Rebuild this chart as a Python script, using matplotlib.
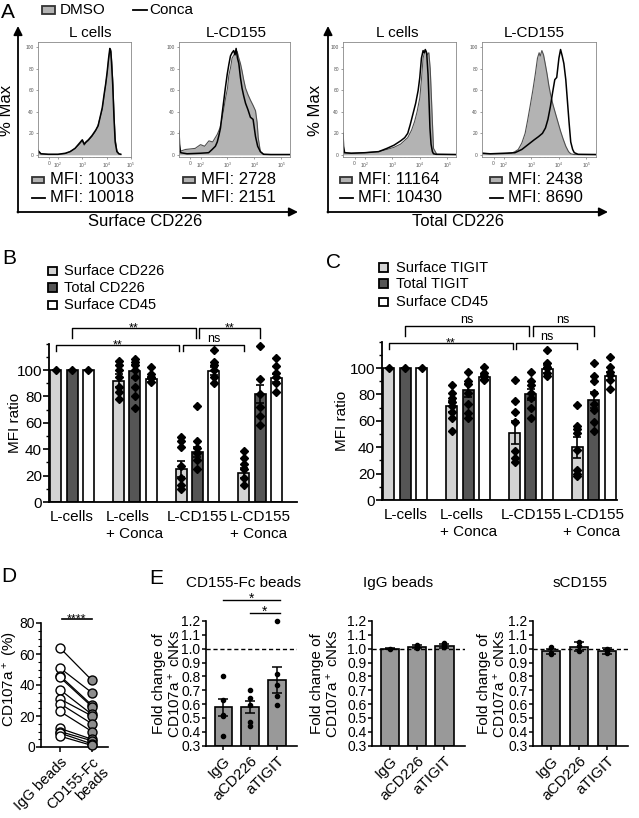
import numpy as np
import matplotlib
matplotlib.use("Agg")
import matplotlib.pyplot as plt
from matplotlib.patches import Rectangle
from matplotlib.ticker import MultipleLocator

plt.rcParams['font.family'] = ['Liberation Sans', 'DejaVu Sans']
plt.rcParams['mathtext.fontset'] = 'custom'
plt.rcParams['mathtext.rm'] = 'Liberation Sans'
plt.rcParams['mathtext.default'] = 'regular'

W, H = 639, 818

##data##
# panel A, x = log10 intensity, y = % max
h1_dmso_x = [1.18, 1.3, 1.6, 2.0, 2.3, 2.5, 2.7, 2.85, 3.0, 3.08, 3.15, 3.25, 3.4, 3.55, 3.65, 3.75, 3.82, 3.9, 3.96, 4.02, 4.08, 4.13, 4.17, 4.2, 4.25, 4.3, 4.35, 4.42, 4.5, 4.58]
h1_dmso_y = [3, 1, 0.5, 0.5, 1, 3, 6, 9, 13, 9, 11, 13, 17, 22, 28, 36, 42, 55, 65, 75, 88, 97, 98, 90, 70, 40, 15, 4, 1, 0.5]
h1_conca_x = [1.18, 1.3, 1.6, 2.0, 2.3, 2.5, 2.7, 2.85, 3.0, 3.08, 3.15, 3.25, 3.4, 3.55, 3.65, 3.75, 3.82, 3.9, 3.96, 4.02, 4.08, 4.13, 4.17, 4.2, 4.25, 4.3, 4.35, 4.42, 4.5, 4.58]
h1_conca_y = [4, 1, 0.5, 0.5, 1.5, 3, 6, 10, 14, 10, 12, 14, 18, 23, 27, 37, 44, 57, 66, 77, 90, 99, 96, 86, 65, 35, 12, 3, 1, 0.5]

h2_dmso_x = [1.2, 1.44, 1.8, 2.0, 2.15, 2.31, 2.45, 2.62, 2.72, 2.80, 2.87, 2.93, 3.0, 3.05, 3.12, 3.17, 3.24, 3.30, 3.36, 3.42, 3.48, 3.54, 3.6, 3.67, 3.76, 3.85, 3.95, 4.04, 4.1, 4.14, 4.22, 4.34, 4.6, 5.32]
h2_dmso_y = [3, 5, 6, 9.5, 8, 13, 12, 19, 25, 34, 44, 53, 62, 74, 82, 90, 93, 97, 96, 90, 85, 78, 70, 62, 56, 51, 46, 41, 30, 16, 3, 0.5, 0.3, 0.3]
h2_conca_x = [1.2, 1.22, 1.26, 1.5, 2.0, 2.3, 2.43, 2.55, 2.62, 2.68, 2.74, 2.8, 2.86, 2.92, 2.99, 3.05, 3.11, 3.17, 3.23, 3.28, 3.32, 3.37, 3.42, 3.48, 3.54, 3.6, 3.67, 3.76, 3.85, 3.95, 4.04, 4.12, 4.22, 4.34, 4.6, 5.32]
h2_conca_y = [22, 10, 2, 1, 1.5, 2, 5, 8, 12, 18, 25, 38, 50, 62, 75, 84, 92, 95, 97, 93, 99, 90, 85, 72, 62, 55, 48, 42, 35, 33, 17, 8, 3, 0.5, 0.3, 0.3]

h3_dmso_x = [1.2, 1.25, 1.5, 2.0, 2.5, 2.8, 3.06, 3.3, 3.56, 3.7, 3.81, 3.9, 4.0, 4.06, 4.12, 4.17, 4.21, 4.26, 4.33, 4.38, 4.41, 4.46, 4.5, 4.62, 5.32]
h3_dmso_y = [3, 2, 1.5, 2, 3, 5, 7, 10, 16, 23, 31, 40, 53, 70, 90, 95, 97, 93, 95, 80, 62, 30, 6, 0.5, 0.3]
h3_conca_x = [1.2, 1.22, 1.26, 1.5, 2.0, 2.5, 2.8, 3.06, 3.3, 3.45, 3.56, 3.65, 3.75, 3.85, 3.94, 4.0, 4.06, 4.12, 4.16, 4.2, 4.25, 4.3, 4.33, 4.37, 4.41, 4.46, 4.5, 4.6, 5.32]
h3_conca_y = [20, 8, 2, 1.5, 2, 3, 6, 9, 13, 16, 20, 28, 38, 48, 60, 72, 90, 97, 95, 98, 95, 75, 55, 25, 10, 3, 1, 0.5, 0.3]

h4_dmso_x = [1.2, 1.5, 2.0, 2.27, 2.4, 2.52, 2.65, 2.77, 2.86, 2.95, 3.05, 3.14, 3.22, 3.28, 3.32, 3.38, 3.44, 3.5, 3.57, 3.63, 3.69, 3.78, 3.88, 3.97, 4.06, 4.15, 4.25, 4.35, 4.43, 4.55, 5.35]
h4_dmso_y = [1.5, 1, 1, 1.5, 3, 5, 11, 20, 32, 45, 60, 75, 90, 95, 92, 97, 93, 85, 75, 65, 57, 47, 38, 30, 22, 15, 8, 3, 1, 0.3, 0.3]
h4_conca_x = [1.2, 1.5, 2.0, 2.4, 2.65, 2.8, 3.0, 3.1, 3.26, 3.4, 3.51, 3.6, 3.69, 3.77, 3.85, 3.92, 4.0, 4.06, 4.12, 4.18, 4.25, 4.31, 4.37, 4.43, 4.5, 4.56, 4.7, 5.35]
h4_conca_y = [1.5, 1, 1.5, 2, 5, 8, 12, 14, 17, 20, 25, 33, 45, 58, 70, 72, 90, 98, 92, 85, 70, 50, 30, 12, 5, 2, 0.5, 0.3]

hist_titles = ['L cells', 'L-CD155', 'L cells', 'L-CD155']
mfi_dmso = ['10033', '2728', '11164', '2438']
mfi_conca = ['10018', '2151', '10430', '8690']

# panel B / C
groups = ['L-cells', 'L-cells\n+ Conca', 'L-CD155', 'L-CD155\n+ Conca']
b_names = ['Surface CD226', 'Total CD226', 'Surface CD45']
b_mean = [[100, 92, 25, 22], [100, 99, 38, 82], [100, 93, 99, 94]]
b_err = [[0, 5, 6, 4], [0, 5, 4, 7], [0, 2, 3, 3]]
b_pts = [
    [[100], [107, 104, 100, 95, 87, 83, 78], [49, 46, 42, 27, 18, 13, 10], [39, 33, 29, 25, 18, 13]],
    [[100], [108, 106, 104, 100, 95, 87, 80, 71], [73, 46, 41, 37, 32, 25], [118, 93, 82, 72, 65, 58]],
    [[100], [102, 97, 95, 94, 91], [115, 106, 104, 100, 95, 90], [109, 103, 98, 95, 90, 83]],
]
b_upper = ['**', '**']
b_lower = ['**', 'ns']

c_names = ['Surface TIGIT', 'Total TIGIT', 'Surface CD45']
c_mean = [[100, 71, 51, 40], [100, 83, 80, 76], [100, 93, 99, 94]]
c_err = [[0, 4, 8.5, 8], [0, 5, 4, 6], [0, 2, 3, 3]]
c_pts = [
    [[100], [87, 81, 77, 74, 71, 67, 62, 52], [91, 75, 67, 59, 37, 32, 29], [72, 56, 54, 51, 38, 23, 20, 18]],
    [[100], [97, 90, 88, 81, 73, 66, 62], [97, 90, 87, 81, 77, 70, 62], [104, 94, 90, 81, 73, 68, 59, 52]],
    [[100], [101, 96, 94, 92, 91], [114, 104, 101, 100, 96, 94], [108, 101, 97, 95, 91, 84]],
]
c_upper = ['ns', 'ns']
c_lower = ['**', 'ns']

# panel D
d_labels = ['IgG beads', 'CD155-Fc\nbeads']
d_igg = [64, 51, 46, 45, 37, 31, 28, 23, 12, 10, 9, 7]
d_cd155 = [43, 35, 27, 26, 21, 20, 15, 10, 5, 4, 2, 1]

# panel E
e_labels = ['IgG', 'aCD226', 'aTIGIT']
e_titles = ['CD155-Fc beads', 'IgG beads', 'sCD155']
e_mean = [[0.575, 0.58, 0.775], [1.0, 1.015, 1.022], [0.98, 1.015, 0.985]]
e_err = [[0.06, 0.045, 0.095], [0.003, 0.012, 0.015], [0.02, 0.03, 0.02]]
e_pts = [
    [[0.80, 0.63, 0.52, 0.51, 0.37], [0.70, 0.64, 0.59, 0.47, 0.44], [1.2, 0.82, 0.74, 0.66, 0.59]],
    [[1.0], [1.03, 1.02, 1.005], [1.04, 1.03, 1.01]],
    [[1.01, 0.97, 0.96], [1.05, 1.02, 0.98], [1.0, 0.97, 0.98]],
]

fig = plt.figure(figsize=(W / 100, H / 100), dpi=100)


def px_axes(l, t, r, b):
    return fig.add_axes([l / W, 1 - b / H, (r - l) / W, (b - t) / H])


grey_fill = '#b3b3b3'

##Panel A##
hists = [(h1_dmso_x, h1_dmso_y, h1_conca_x, h1_conca_y),
         (h2_dmso_x, h2_dmso_y, h2_conca_x, h2_conca_y),
         (h3_dmso_x, h3_dmso_y, h3_conca_x, h3_conca_y),
         (h4_dmso_x, h4_dmso_y, h4_conca_x, h4_conca_y)]
hist_box = [(38, 42, 131, 157), (179, 42, 290, 157), (343, 42, 456, 157), (482, 42, 596, 157)]
hist_xlim = [(1.18, 4.58), (1.2, 5.32), (1.2, 5.32), (1.2, 5.35)]
minor = [np.log10(m * 10.0 ** k) for k in (2, 3, 4) for m in range(2, 10)]
for i in range(4):
    ax = px_axes(*hist_box[i])
    dx, dy, cx, cy = hists[i]
    ax.fill_between(dx, dy, 0, color=grey_fill, lw=0)
    ax.plot(dx, dy, color='#505050', lw=0.8)
    ax.plot(cx, cy, color='k', lw=1.1)
    ax.set_xlim(*hist_xlim[i])
    ax.set_ylim(-2, 105)
    ax.set_xticks([1.62, 2, 3, 4, 5])
    ax.set_xticklabels(['0', '10$^2$', '10$^3$', '10$^4$', '10$^5$'])
    ax.set_xticks(minor, minor=True)
    ax.set_yticks([0, 20, 40, 60, 80, 100])
    ax.tick_params(labelsize=3.5, length=1.5, width=0.4, pad=1.5, colors='#555555')
    ax.tick_params(which='minor', length=1, width=0.3, colors='#777777')
    for s in ax.spines.values():
        s.set_color('#888888')
        s.set_linewidth(0.6)

##Panel B and C##
bar_cols = ['#d3d3d3', '#555555', 'white']
off = 0.26
bw = 0.175


def bar_panel(ax, means, errs, pts, upper, lower, right, ylab_x):
    x = np.arange(len(groups))
    for j in range(3):
        xs = x + (j - 1) * off
        ax.bar(xs, means[j], bw, color=bar_cols[j], edgecolor='k', lw=1.2, zorder=2)
        ax.errorbar(xs, means[j], yerr=errs[j], fmt='none', ecolor='k', elinewidth=1.2, capsize=3, capthick=1.2, zorder=3)
        for g in range(len(groups)):
            p = pts[j][g]
            ax.plot([xs[g]] * len(p), p, 'D', color='k', ms=4.5, zorder=4, clip_on=False)
    ax.set_xlim(-0.37, right)
    ax.set_ylim(0, 120)
    ax.set_yticks([0, 20, 40, 60, 80, 100])
    ax.yaxis.set_minor_locator(MultipleLocator(10))
    ax.set_xticks(x)
    ax.set_xticklabels(groups, multialignment='left', fontsize=11)
    ax.tick_params(axis='x', length=0, pad=6)
    ax.tick_params(axis='y', labelsize=11, length=4, width=1.2, pad=1)
    ax.tick_params(axis='y', which='minor', length=2.5, width=1.0)
    ax.set_ylabel('MFI ratio', fontsize=11)
    ax.yaxis.set_label_coords(ylab_x, 0.5)
    for s in ['top', 'right']:
        ax.spines[s].set_visible(False)
    for s in ['left', 'bottom']:
        ax.spines[s].set_linewidth(1.3)
    # brackets
    g = 0.03
    for (a, b), lab in zip([(0, 2 - g), (2 + g, 3)], upper):
        ax.plot([a, a, b, b], [124.5, 132, 132, 124.5], color='k', lw=1, clip_on=False)
        if lab == 'ns':
            ax.text((a + b) / 2, 132, lab, ha='center', va='bottom', fontsize=9)
        else:
            ax.text((a + b) / 2, 129, lab, ha='center', va='baseline', fontsize=9)
    for (a, b), lab in zip([(-off, 2 - off - g), (2 - off + g, 3 - off)], lower):
        ax.plot([a, a, b, b], [114.5, 119, 119, 114.5], color='k', lw=1, clip_on=False)
        if lab == 'ns':
            ax.text((a + b) / 2, 119, lab, ha='center', va='bottom', fontsize=9)
        else:
            ax.text((a + b) / 2, 116, lab, ha='center', va='baseline', fontsize=9)


ax_b = px_axes(49, 343.6, 297, 502)
bar_panel(ax_b, b_mean, b_err, b_pts, b_upper, b_lower, 3.59, -0.109)
ax_c = px_axes(382, 341.6, 617, 500)
bar_panel(ax_c, c_mean, c_err, c_pts, c_upper, c_lower, 3.37, -0.14)

##Panel D##
ax_d = px_axes(41, 623, 108, 747)
for a, b in zip(d_igg, d_cd155):
    ax_d.plot([0, 1], [a, b], color='k', lw=0.9, zorder=2)
ax_d.scatter([0] * len(d_igg), d_igg, s=42, facecolor='white', edgecolor='k', lw=1.0, zorder=3, clip_on=False)
ax_d.scatter([1] * len(d_cd155), d_cd155, s=42, facecolor='#8c8c8c', edgecolor='k', lw=1.0, zorder=3, clip_on=False)
ax_d.set_xlim(-0.59, 1.5)
ax_d.set_ylim(0, 80)
ax_d.set_yticks([0, 20, 40, 60, 80])
ax_d.yaxis.set_minor_locator(MultipleLocator(5))
ax_d.set_xticks([0, 1])
ax_d.set_xticklabels(d_labels, rotation=45, ha='right', rotation_mode='anchor', multialignment='right', fontsize=10.5, linespacing=1.0)
ax_d.tick_params(axis='both', labelsize=10, length=3.5, width=1.1, pad=1)
ax_d.tick_params(axis='x', labelsize=10.5, pad=2)
ax_d.tick_params(axis='y', which='minor', length=2, width=0.8)
ax_d.set_ylabel('CD107a$^+$ (%)', fontsize=11)
ax_d.yaxis.set_label_coords(-0.31, 0.55)
for s in ['top', 'right']:
    ax_d.spines[s].set_visible(False)
for s in ['left', 'bottom']:
    ax_d.spines[s].set_linewidth(1.2)
ax_d.plot([0.05, 1.0], [82.6, 82.6], color='k', lw=1.2, clip_on=False)
ax_d.text(0.52, 80.6, '****', ha='center', va='baseline', fontsize=9)

##Panel E##
e_box = [(206, 621, 297, 745.5), (372, 621, 465, 745.5), (533, 621, 628, 745.5)]
e_ylab_x = [-0.26, -0.34, -0.27]
for i in range(3):
    ax = px_axes(*e_box[i])
    x = np.arange(3)
    ax.bar(x, np.array(e_mean[i]) - 0.3, 0.66, bottom=0.3, color='#999999', edgecolor='k', lw=1.2, zorder=2)
    ax.errorbar(x, e_mean[i], yerr=e_err[i], fmt='none', ecolor='k', elinewidth=1.1, capsize=3.5, capthick=1.1, zorder=3)
    for g in range(3):
        p = e_pts[i][g]
        ax.plot([x[g]] * len(p), p, 'o', color='k', ms=3, zorder=4, clip_on=False)
    ax.axhline(1.0, color='k', lw=1.0, ls=(0, (3, 2)), zorder=5)
    ax.set_xlim(-0.65, 2.75)
    ax.set_ylim(0.3, 1.2)
    ax.set_yticks(np.round(np.arange(0.3, 1.21, 0.1), 1))
    ax.set_xticks(x)
    ax.set_xticklabels(e_labels, rotation=45, ha='right', rotation_mode='anchor', fontsize=11)
    ax.tick_params(axis='y', labelsize=10, length=3, width=1.1, pad=1)
    ax.tick_params(axis='x', length=3, width=1.1, pad=3)
    ax.set_ylabel('Fold change of\nCD107a$^+$ cNKs', fontsize=11, linespacing=1.0)
    ax.yaxis.set_label_coords(e_ylab_x[i], 0.5)
    for s in ['top', 'right']:
        ax.spines[s].set_visible(False)
    for s in ['left', 'bottom']:
        ax.spines[s].set_linewidth(1.2)
    if i == 0:
        ax.plot([0, 2.1], [1.352, 1.352], color='k', lw=1.0, clip_on=False)
        ax.text(1.05, 1.33, '*', ha='center', va='baseline', fontsize=10)
        ax.plot([1.0, 2.1], [1.258, 1.258], color='k', lw=1.0, clip_on=False)
        ax.text(1.55, 1.236, '*', ha='center', va='baseline', fontsize=10)

##overlay text / arrows##
ov = fig.add_axes([0, 0, 1, 1])
ov.set_xlim(0, W)
ov.set_ylim(H, 0)
ov.axis('off')
ov.patch.set_alpha(0)
arrow = dict(arrowstyle='-|>', lw=1.3, color='k', mutation_scale=13, shrinkA=0, shrinkB=0)
for x0, x1 in [(18, 298), (328, 608)]:
    ov.annotate('', xy=(x0, 26), xytext=(x0, 212.6), arrowprops=arrow)
    ov.annotate('', xy=(x1, 212), xytext=(x0 - 0.6, 212), arrowprops=arrow)
ov.text(7, 110, '% Max', rotation=90, ha='center', va='center', fontsize=12)
ov.text(316, 110, '% Max', rotation=90, ha='center', va='center', fontsize=12)
ov.text(145, 221, 'Surface CD226', ha='center', va='center', fontsize=12)
ov.text(458, 221, 'Total CD226', ha='center', va='center', fontsize=12)

ov.text(1, 13, 'A', ha='left', va='center', fontsize=15)
ov.add_patch(Rectangle((42, 6), 13, 7.5, facecolor=grey_fill, edgecolor='#333333', lw=1.3))
ov.text(60, 9.5, 'DMSO', ha='left', va='center', fontsize=11)
ov.plot([133, 147], [10, 10], color='k', lw=1.3)
ov.text(149, 9.5, 'Conca', ha='left', va='center', fontsize=11)

title_x = [90, 236, 397, 534]
mfi_x = [32, 183, 340, 490]
for i in range(4):
    ov.text(title_x[i], 33, hist_titles[i], ha='center', va='center', fontsize=11)
    ov.add_patch(Rectangle((mfi_x[i], 176.5), 11.5, 6.5, facecolor=grey_fill, edgecolor='#333333', lw=1.3))
    ov.text(mfi_x[i] + 18, 180, 'MFI: ' + mfi_dmso[i], ha='left', va='center', fontsize=12)
    ov.plot([mfi_x[i], mfi_x[i] + 12.5], [198, 198], color='k', lw=1.3)
    ov.text(mfi_x[i] + 18, 198, 'MFI: ' + mfi_conca[i], ha='left', va='center', fontsize=12)

# legends B / C
for lx, names, ly in [(48, b_names, [271, 287.5, 305]), (379, c_names, [267.5, 283.5, 302])]:
    for j in range(3):
        ov.add_patch(Rectangle((lx, ly[j] - 4.3), 8.6, 8.6, facecolor=bar_cols[j], edgecolor='k', lw=1.3))
        ov.text(lx + 16.5, ly[j], names[j], ha='left', va='center', fontsize=10.5)
ov.text(2, 259, 'B', ha='left', va='center', fontsize=15)
ov.text(326, 262, 'C', ha='left', va='center', fontsize=15)
ov.text(1, 577, 'D', ha='left', va='center', fontsize=15)
ov.text(149, 578, 'E', ha='left', va='center', fontsize=15)
for tx, t in zip([243, 398, 580], e_titles):
    ov.text(tx, 583, t, ha='center', va='center', fontsize=11)

fig.savefig('out.png', dpi=100)
